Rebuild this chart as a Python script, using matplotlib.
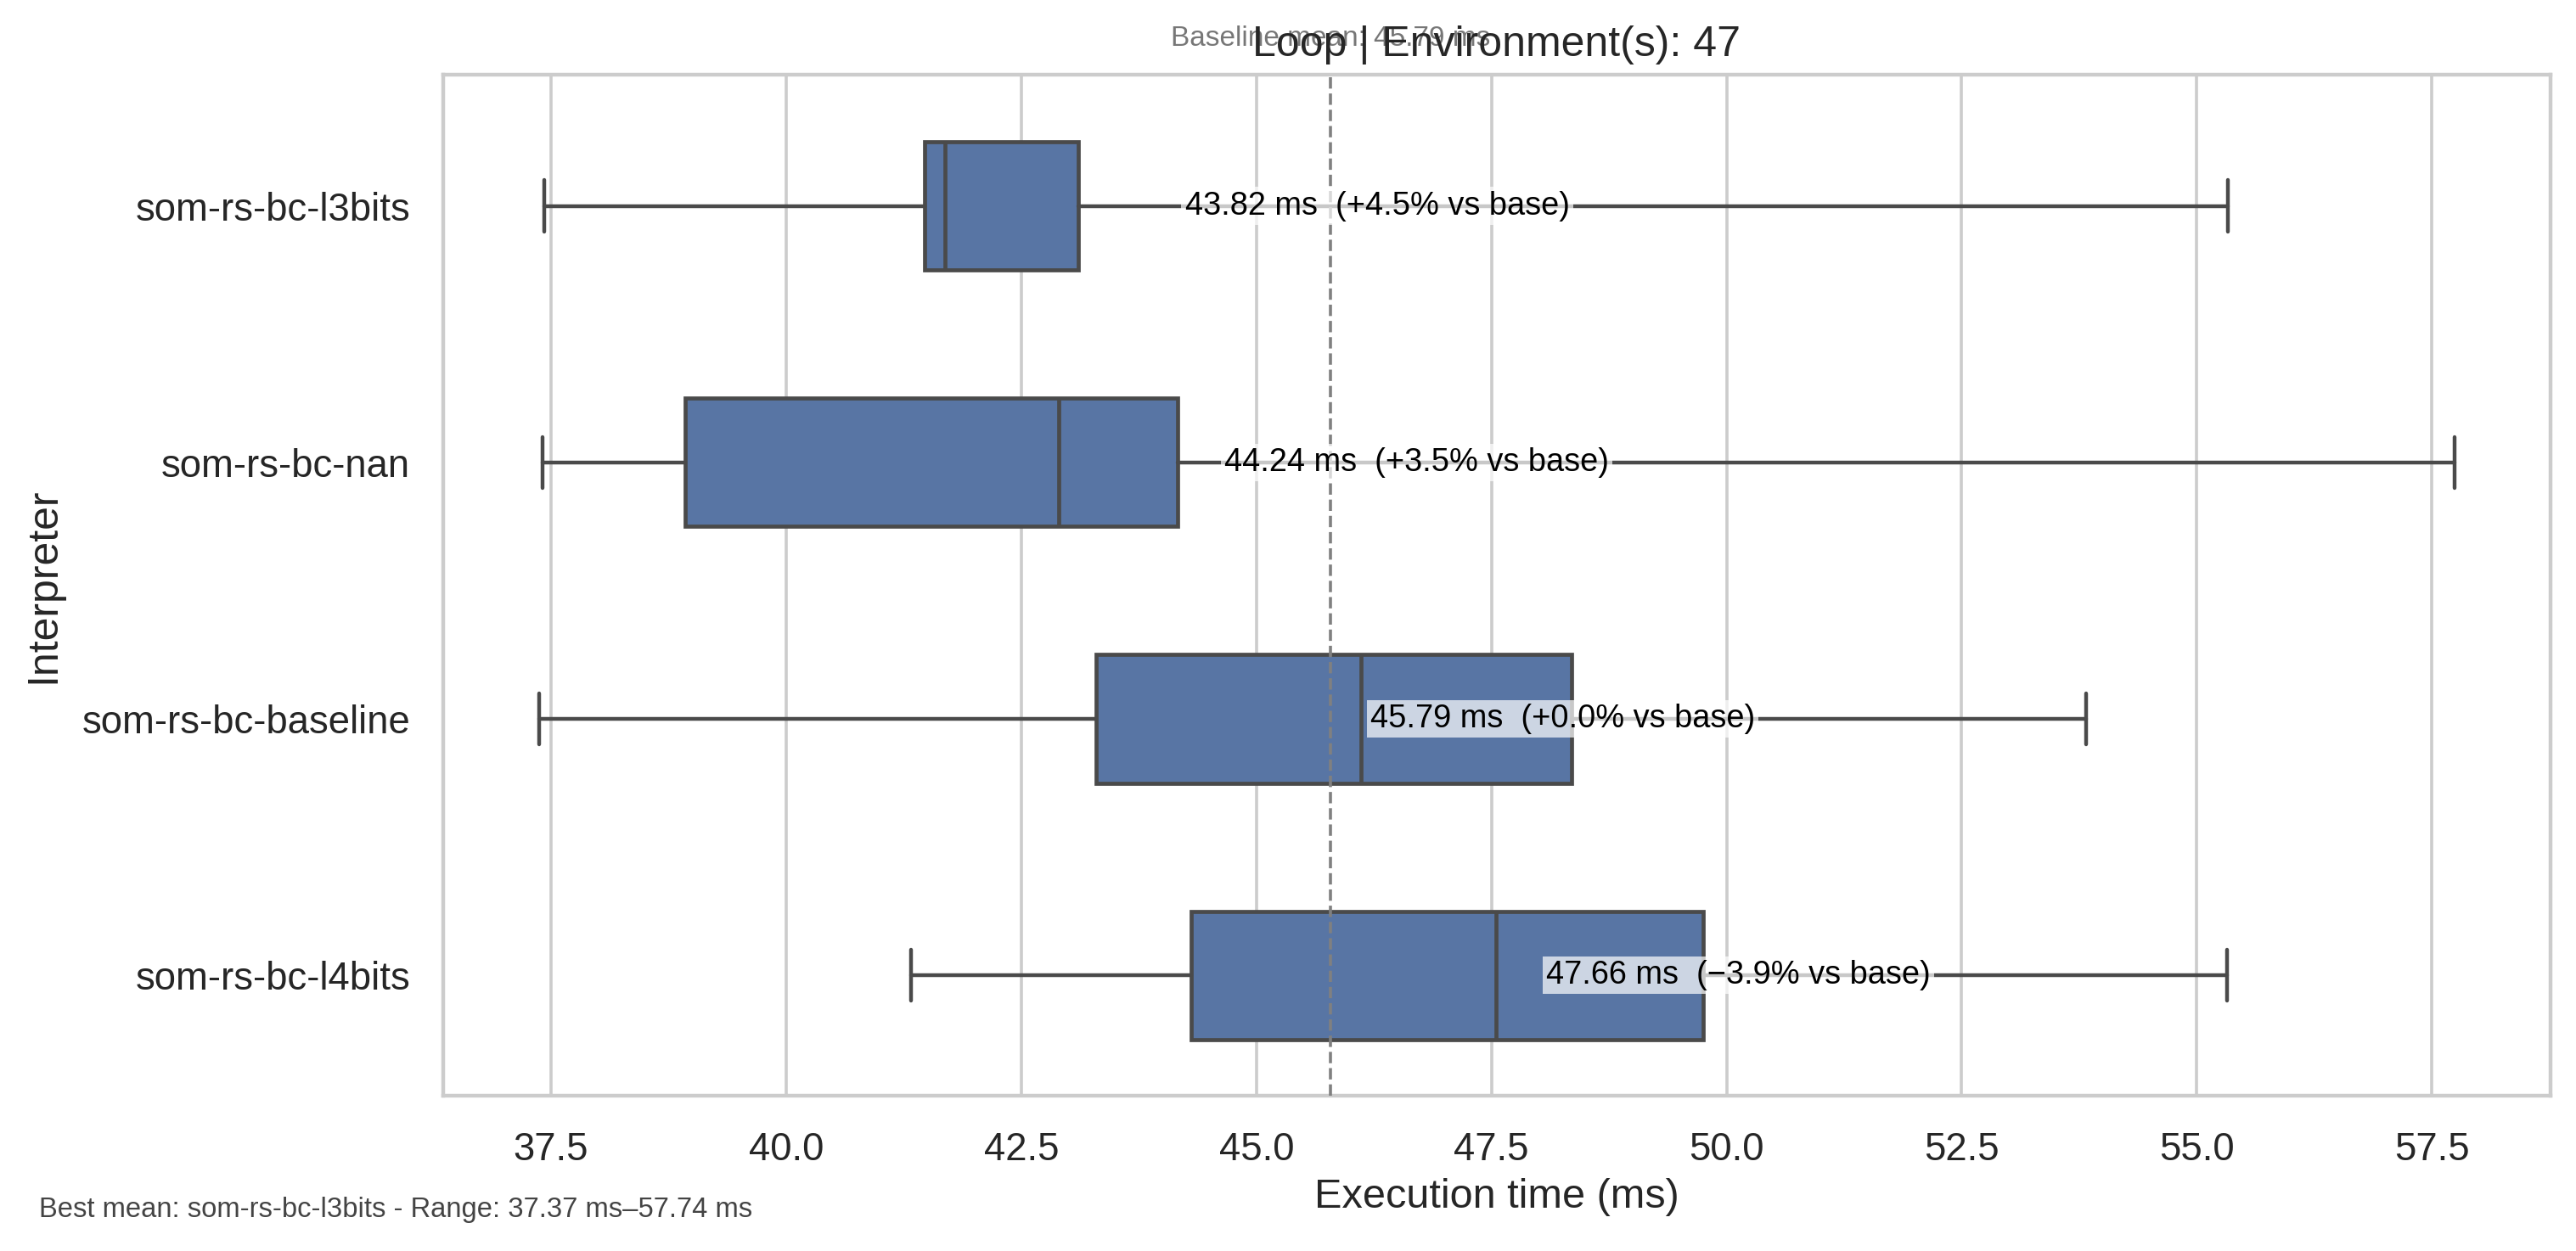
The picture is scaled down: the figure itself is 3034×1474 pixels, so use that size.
import matplotlib
matplotlib.use("Agg")
import matplotlib.pyplot as plt
import matplotlib.transforms as mtransforms
import seaborn as sns

# values (ms)
interpreters = ["som-rs-bc-l3bits", "som-rs-bc-nan", "som-rs-bc-baseline", "som-rs-bc-l4bits"]
whislo = [37.43, 37.41, 37.37, 41.33]
q1     = [41.47, 38.93, 43.30, 44.31]
median = [41.69, 42.90, 46.11, 47.55]
q3     = [43.11, 44.16, 48.35, 49.75]
whishi = [55.33, 57.74, 53.82, 55.32]
means  = [43.82, 44.24, 45.79, 47.66]
baseline_mean = 45.79
env_count = 47

sns.set_theme(style="whitegrid")
plt.rcParams["font.family"] = ["Liberation Sans", "DejaVu Sans"]

fig = plt.figure(figsize=(15.17, 7.37), dpi=200)
ax = fig.add_axes([0.172, 0.124, 0.818, 0.816])

box_color = "#5875a4"
line_color = "#4a4a4a"

stats = []
for i, name in enumerate(interpreters):
    stats.append(dict(label=name, whislo=whislo[i], q1=q1[i], med=median[i],
                      q3=q3[i], whishi=whishi[i], fliers=[]))

ax.bxp(stats, positions=range(len(interpreters)), vert=False, widths=0.5,
       capwidths=0.2, patch_artist=True, showfliers=False,
       boxprops=dict(facecolor=box_color, edgecolor=line_color, linewidth=1.7),
       medianprops=dict(color=line_color, linewidth=1.7),
       whiskerprops=dict(color=line_color, linewidth=1.6),
       capprops=dict(color=line_color, linewidth=1.6))

# baseline reference line
ax.axvline(baseline_mean, color="gray", linestyle="--", linewidth=1.3, zorder=3)
ax.annotate(f"Baseline mean: {baseline_mean:.2f} ms",
            xy=(baseline_mean, 1), xycoords=mtransforms.blended_transform_factory(ax.transData, ax.transAxes),
            xytext=(0, 10), textcoords="offset points", ha="center", va="bottom",
            fontsize=12, color="#777777")

# mean labels
for i, m in enumerate(means):
    pct = (baseline_mean / m - 1) * 100
    sign = "+" if pct >= 0 else "\u2212"
    ax.text(m + 0.42, i, f"{m:.2f} ms  ({sign}{abs(pct):.1f}% vs base)",
            ha="left", va="center", fontsize=13.7, color="black", zorder=5,
            bbox=dict(facecolor="white", alpha=0.7, edgecolor="none", pad=1.5))

ax.set_yticks(range(len(interpreters)))
ax.set_yticklabels(interpreters)
ax.set_ylim(3.47, -0.51)
ax.grid(axis="y", visible=False)
ax.grid(axis="x", color="#cccccc", linewidth=1.3)
ax.tick_params(axis="both", labelsize=16.4, pad=8)
ax.tick_params(axis="x", pad=9)
for sp in ax.spines.values():
    sp.set_color("#cccccc")
    sp.set_linewidth(1.6)

ax.set_xlabel("Execution time (ms)", fontsize=17.5)
ax.set_ylabel("Interpreter", fontsize=18, labelpad=8)
ax.set_title(f"Loop | Environment(s): {env_count}", fontsize=18, pad=8)

fig.text(0.015, 0.033,
         f"Best mean: {interpreters[0]} - Range: {min(whislo):.2f} ms\u2013{max(whishi):.2f} ms",
         ha="left", va="center", fontsize=11.8, color="#444444")

fig.savefig("out.png", dpi=200)
